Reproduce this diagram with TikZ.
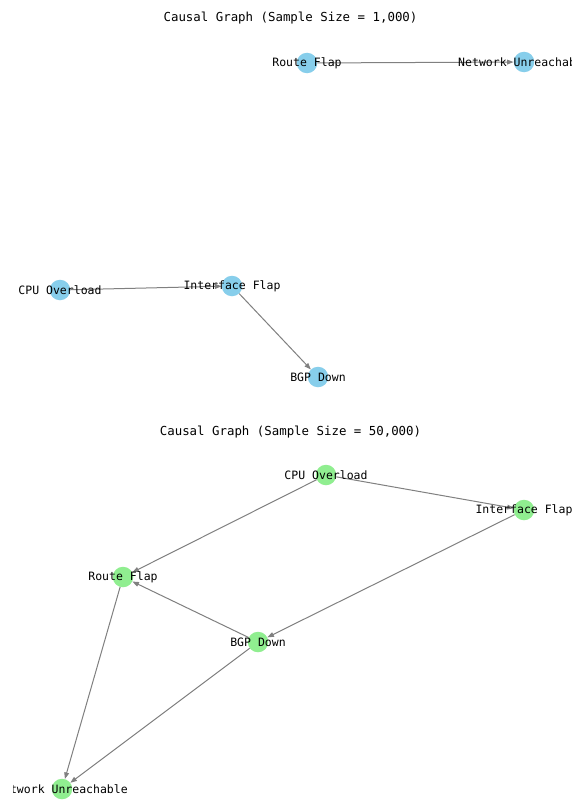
\documentclass[tikz,border=0pt]{standalone}
\usepackage{fontspec}
\setmonofont{DejaVu Sans Mono}
\usetikzlibrary{arrows.meta}
\definecolor{gsmall}{HTML}{87CEEB}
\definecolor{glarge}{HTML}{90EE90}
\definecolor{gedge}{HTML}{808080}

\begin{document}
\begin{tikzpicture}[x=1pt, y=-1pt, >={Triangle[length=6.5pt,width=4.8pt]},
    vert/.style={circle, inner sep=0pt, minimum size=20.5pt},
    lbl/.style={font=\ttfamily\fontsize{11.5}{13}\selectfont, inner sep=0pt},
    ttl/.style={font=\ttfamily\fontsize{12.4}{14}\selectfont, inner sep=0pt},
    causal/.style={->, draw=gedge, line width=1pt}]
  \useasboundingbox[fill=white] (0,0) rectangle (572,800);

  % titles
  \node[ttl] (ttlA) at (290.5,18) {Causal Graph (Sample Size = 1,000)};
  \node[ttl] (ttlB) at (290.5,432) {Causal Graph (Sample Size = 50,000)};

  % n = 1,000
  \node[vert, fill=gsmall] (rfA)  at (307,63)  {};
  \node[vert, fill=gsmall] (nuA)  at (524,62)  {};
  \node[vert, fill=gsmall] (cpuA) at (60,290)  {};
  \node[vert, fill=gsmall] (ifA)  at (232,286) {};
  \node[vert, fill=gsmall] (bgpA) at (318,377) {};

  \draw[causal] (rfA) -- (nuA);
  \draw[causal] (cpuA) -- (ifA);
  \draw[causal] (ifA) -- (bgpA);

  % n = 50,000
  \node[vert, fill=glarge] (cpuB) at (326,475) {};
  \node[vert, fill=glarge] (ifB)  at (524,510) {};
  \node[vert, fill=glarge] (rfB)  at (123,577) {};
  \node[vert, fill=glarge] (bgpB) at (258,642) {};
  \node[vert, fill=glarge] (nuB)  at (62,789)  {};

  \draw[causal] (cpuB) -- (ifB);
  \draw[causal] (cpuB) -- (rfB);
  \draw[causal] (ifB) -- (bgpB);
  \draw[causal] (bgpB) -- (rfB);
  \draw[causal] (rfB) -- (nuB);
  \draw[causal] (bgpB) -- (nuB);

  % labels sit on top, cut at the axes box
  \begin{scope}
    \clip (13,0) rectangle (572,800);
    \node[lbl] (rfAtxt)  at (rfA)  {Route Flap};
    \node[lbl] (nuAtxt)  at (nuA)  {Network Unreachable};
    \node[lbl] (cpuAtxt) at (cpuA) {CPU Overload};
    \node[lbl] (ifAtxt)  at (ifA)  {Interface Flap};
    \node[lbl] (bgpAtxt) at (bgpA) {BGP Down};
    \node[lbl] (cpuBtxt) at (cpuB) {CPU Overload};
    \node[lbl] (ifBtxt)  at (ifB)  {Interface Flap};
    \node[lbl] (rfBtxt)  at (rfB)  {Route Flap};
    \node[lbl] (bgpBtxt) at (bgpB) {BGP Down};
    \node[lbl] (nuBtxt)  at (nuB)  {Network Unreachable};
  \end{scope}
\end{tikzpicture}
\end{document}
